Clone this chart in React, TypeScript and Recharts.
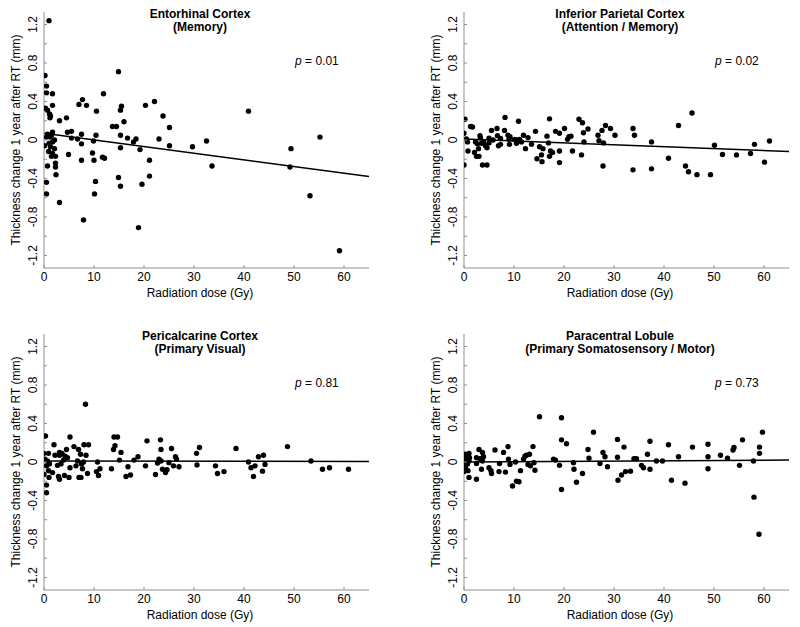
import { ScatterChart, Scatter, XAxis, YAxis, ReferenceLine } from "recharts";

const FONT = '"Liberation Sans", Arial, Helvetica, sans-serif';
const AXIS_COLOR = "#8f8f8f";

const DOSE_TICKS = [0, 10, 20, 30, 40, 50, 60];
const CHANGE_TICKS = [-1.2, -1.0, -0.8, -0.6, -0.4, -0.2, 0, 0.2, 0.4, 0.6, 0.8, 1.0, 1.2];
const LABELED_CHANGE = [-1.2, -0.8, -0.4, 0, 0.4, 0.8, 1.2];

// [dose (Gy), thickness change (mm)]
const entorhinal: [number, number][] = [
  [1.0, 1.24], [0.2, 0.67], [0.5, 0.56], [0.5, 0.49], [1.7, 0.48], [1.7, 0.36], [0.3, 0.33],
  [0.7, 0.31], [1.1, 0.27], [1.3, 0.25], [1.2, 0.23], [3.1, 0.2], [4.5, 0.23], [7.0, 0.37],
  [7.7, 0.42], [8.5, 0.36], [10.5, 0.3], [11.9, 0.48], [14.9, 0.71], [15.3, 0.31], [15.5, 0.35],
  [16.0, 0.19], [13.7, 0.14], [14.5, 0.14], [15.3, 0.05], [15.3, -0.08], [16.7, 0.02], [17.9, -0.02],
  [18.4, 0.01], [19.2, -0.1], [20.3, 0.36], [22.1, 0.4], [23.8, 0.25], [25.1, 0.13], [23.0, 0.01],
  [25.1, -0.06], [21.1, -0.21], [21.1, -0.375], [19.6, -0.46], [18.9, -0.91], [14.9, -0.39],
  [15.3, -0.48], [10.3, -0.43], [10.1, -0.56], [10.0, -0.21], [9.7, -0.135], [9.9, -0.01],
  [10.4, 0.05], [11.7, -0.18], [12.1, -0.19], [7.5, -0.04], [7.5, -0.21], [7.5, 0.06], [6.7, 0.01],
  [5.5, 0.09], [5.5, 0.02], [4.7, 0.08], [4.9, -0.15], [7.9, -0.83], [3.1, -0.65], [0.5, -0.44],
  [0.5, -0.56], [0.7, -0.27], [2.3, -0.28], [2.4, -0.36], [2.3, -0.24], [2.3, -0.17], [1.5, -0.17],
  [1.7, -0.14], [0.9, -0.12], [0.1, -0.06], [0.5, 0.03], [1.2, 0.03], [1.7, 0.08], [1.7, -0.02],
  [2.1, 0.0], [2.1, -0.09], [1.3, -0.07], [1.0, -0.035], [1.5, 0.05], [0.7, 0.06], [29.7, -0.07],
  [32.5, -0.01], [33.6, -0.27], [40.9, 0.3], [49.4, -0.09], [49.2, -0.28], [53.2, -0.58],
  [55.2, 0.03], [59.1, -1.15],
];

const inferiorParietal: [number, number][] = [
  [0, 0.07], [0.2, 0.215], [0, -0.26], [0.5, 0.01], [0.7, -0.02], [0.8, -0.115], [1.3, 0.14],
  [1.7, 0.135], [2.1, -0.13], [2.5, -0.17], [2.3, -0.02], [2.7, -0.04], [2.9, -0.09], [3.0, -0.17],
  [3.2, 0.045], [3.3, 0.02], [3.5, -0.035], [3.7, -0.26], [4.6, -0.26], [3.9, -0.02], [4.3, -0.06],
  [4.6, -0.08], [5.0, 0.02], [5.0, -0.03], [5.5, 0.1], [5.8, 0.0], [6.6, 0.12], [6.7, 0.045],
  [6.9, -0.06], [7.3, -0.045], [7.3, 0.015], [8.2, 0.235], [8.1, 0.1], [8.8, 0.05], [9.0, 0.007],
  [9.1, -0.045], [9.2, 0.035], [10.1, 0.007], [10.5, -0.035], [10.6, 0.0], [10.9, 0.195],
  [11.1, 0.007], [11.5, -0.02], [11.9, 0.05], [12.3, -0.09], [12.8, 0.025], [13.5, -0.045],
  [14.3, 0.09], [14.6, -0.195], [15.1, -0.07], [15.5, -0.155], [15.6, -0.225], [15.8, -0.09],
  [16.6, 0.04], [16.9, -0.03], [17.1, 0.22], [17.1, -0.17], [17.3, -0.115], [17.7, -0.13],
  [18.3, 0.09], [19.1, 0.07], [19.1, -0.115], [19.1, -0.235], [20.1, 0.12], [20.7, 0.007],
  [21.0, 0.035], [21.4, 0.04], [21.7, -0.115], [23.0, 0.215], [23.7, 0.18], [23.9, 0.075],
  [24.0, -0.02], [23.5, -0.155], [24.8, 0.115], [26.8, 0.05], [27.0, -0.007], [27.6, 0.1],
  [27.9, -0.03], [27.8, -0.27], [28.3, 0.15], [29.3, 0.12], [30.2, 0.05], [33.8, 0.12],
  [34.1, 0.05], [33.8, -0.31], [37.5, -0.02], [37.5, -0.3], [40.9, -0.19], [42.9, 0.15],
  [44.3, -0.27], [44.9, -0.33], [45.6, 0.28], [46.6, -0.36], [49.3, -0.36], [50.1, -0.055],
  [51.7, -0.15], [54.5, -0.155], [57.3, -0.14], [58.1, -0.045], [60.1, -0.23], [61.1, -0.01],
];

const pericalcarine: [number, number][] = [
  [0, 0.09], [0, -0.13], [0.3, 0.27], [0.2, 0.03], [0.5, -0.04], [0.5, -0.24], [0.5, -0.32],
  [0.7, 0.01], [0.9, -0.09], [0.9, 0.09], [1.1, -0.02], [1.0, -0.16], [1.7, -0.11], [2.0, 0.18],
  [2.2, 0.07], [2.7, -0.035], [2.9, -0.15], [3.1, -0.18], [3.1, 0.07], [3.1, 0.1], [3.4, -0.02],
  [3.6, 0.09], [3.9, 0.02], [4.1, -0.14], [4.2, 0.06], [4.5, 0.13], [4.7, 0.045], [5.0, -0.16],
  [5.2, 0.26], [5.2, -0.06], [6.0, 0.16], [6.4, -0.04], [6.7, 0.01], [6.9, 0.13], [7.0, -0.16],
  [7.3, 0.08], [7.4, -0.16], [7.5, -0.02], [7.7, -0.07], [7.9, 0.0], [8.0, 0.18], [8.3, 0.6],
  [8.4, 0.07], [8.9, 0.18], [8.7, -0.12], [10.7, 0.0], [10.5, -0.1], [10.9, -0.14], [11.2, -0.07],
  [13.5, -0.07], [13.9, 0.13], [14.0, 0.26], [14.2, 0.17], [14.7, 0.26], [15.1, 0.02], [15.4, 0.1],
  [16.4, -0.15], [16.8, -0.05], [17.3, -0.135], [18.0, 0.02], [18.8, 0.055], [20.3, -0.04],
  [20.6, 0.22], [22.3, -0.13], [22.7, -0.01], [23.0, 0.03], [23.3, 0.23], [23.4, 0.13], [23.4, 0.01],
  [23.7, -0.075], [24.3, -0.11], [24.6, -0.08], [25.0, -0.007], [25.5, 0.14], [25.9, -0.04],
  [26.3, 0.055], [26.5, 0.03], [27.0, -0.05], [30.5, 0.09], [30.6, -0.03], [31.1, 0.15],
  [34.3, -0.04], [34.7, -0.12], [36.0, -0.1], [38.4, 0.14], [40.9, 0.0], [41.4, -0.06],
  [41.9, -0.15], [42.2, -0.04], [42.9, 0.055], [43.7, -0.095], [43.9, 0.07], [44.2, -0.025],
  [48.7, 0.16], [53.4, 0.01], [55.7, -0.075], [57.1, -0.06], [60.9, -0.075],
];

const paracentral: [number, number][] = [
  [0, 0.045], [0, -0.015], [0, -0.1], [0.2, 0.08], [0.3, -0.06], [0.5, 0.02], [0.7, -0.02],
  [0.8, -0.09], [0.9, 0.06], [1.0, 0.09], [1.0, 0.01], [1.1, 0.045], [1.0, -0.16], [2.5, -0.015],
  [2.5, 0.045], [2.5, -0.18], [3.0, 0.13], [3.2, 0.035], [3.5, -0.075], [3.7, 0.1], [3.9, 0.055],
  [3.7, 0.01], [5.0, -0.06], [5.4, -0.09], [5.5, -0.12], [6.2, 0.125], [7.0, -0.1], [7.1, -0.015],
  [7.9, 0.1], [8.3, -0.105], [8.8, 0.16], [8.9, 0.03], [9.2, -0.025], [9.7, -0.25], [10.3, 0.0],
  [10.5, -0.2], [11.0, -0.205], [11.3, -0.09], [11.9, 0.03], [12.2, 0.06], [12.5, 0.07],
  [12.8, -0.025], [13.1, 0.08], [13.3, -0.04], [13.8, 0.16], [14.0, -0.007], [14.2, -0.085],
  [15.1, 0.47], [17.9, 0.03], [18.3, 0.02], [19.1, -0.035], [19.5, 0.46], [19.5, 0.23],
  [19.5, -0.285], [20.5, 0.19], [21.9, -0.007], [22.0, -0.075], [22.5, -0.21], [23.7, -0.12],
  [24.8, 0.13], [25.0, 0.04], [25.9, 0.31], [27.2, -0.015], [27.8, 0.1], [28.2, 0.055],
  [28.7, -0.05], [30.7, 0.235], [30.7, 0.05], [30.8, -0.19], [31.5, -0.135], [32.0, 0.155],
  [32.3, -0.1], [33.3, -0.095], [34.0, 0.035], [34.5, 0.035], [35.5, -0.035], [35.9, -0.06],
  [36.7, 0.08], [37.2, -0.075], [37.2, 0.215], [38.5, 0.01], [39.7, 0.01], [40.9, 0.18],
  [41.5, -0.19], [42.9, 0.055], [44.2, -0.22], [45.7, 0.155], [48.8, 0.185], [48.8, 0.055],
  [48.8, -0.07], [51.3, 0.07], [52.7, 0.04], [53.8, 0.125], [54.0, 0.15], [55.1, -0.035],
  [55.7, 0.23], [57.9, 0.01], [58.0, -0.365], [59.1, 0.155], [59.1, 0.09], [59.0, -0.75],
  [59.7, 0.31],
];

// fitted line: change at dose 0 and at dose 65
const entorhinalFit = [0.07, -0.38];
const inferiorParietalFit = [0.01, -0.12];
const pericalcarineFit = [0.01, 0.005];
const paracentralFit = [0.0, 0.02];

const PANELS = [
  { left: 0, top: 0, title: "Entorhinal Cortex", subtitle: "(Memory)", p: "0.01", points: entorhinal, fit: entorhinalFit },
  { left: 420, top: 0, title: "Inferior Parietal Cortex", subtitle: "(Attention / Memory)", p: "0.02", points: inferiorParietal, fit: inferiorParietalFit },
  { left: 0, top: 322, title: "Pericalcarine Cortex", subtitle: "(Primary Visual)", p: "0.81", points: pericalcarine, fit: pericalcarineFit },
  { left: 420, top: 322, title: "Paracentral Lobule", subtitle: "(Primary Somatosensory / Motor)", p: "0.73", points: paracentral, fit: paracentralFit },
];

function XTick(props: any) {
  const { x, y, payload } = props;
  return (
    <g>
      <line x1={x} y1={y} x2={x} y2={y - 3} stroke={AXIS_COLOR} />
      <text x={x} y={y + 13} textAnchor="middle" fontSize={12} fontFamily={FONT} fill="#000">
        {payload.value}
      </text>
    </g>
  );
}

function YTick(props: any) {
  const { x, y, payload } = props;
  const v = payload.value;
  const labeled = LABELED_CHANGE.some((t) => Math.abs(t - v) < 1e-6);
  return (
    <g>
      <line x1={x} y1={y} x2={x + 3} y2={y} stroke={AXIS_COLOR} />
      {labeled && (
        <text
          x={x - 7}
          y={y}
          transform={`rotate(-90, ${x - 7}, ${y})`}
          textAnchor="middle"
          fontSize={12}
          fontFamily={FONT}
          fill="#000"
        >
          {Math.abs(v) < 1e-6 ? "0" : v.toFixed(1)}
        </text>
      )}
    </g>
  );
}

function Dot(props: any) {
  return <circle cx={props.cx} cy={props.cy} r={2.7} fill="#000" />;
}

function Panel({ left, top, title, subtitle, p, points, fit }: (typeof PANELS)[number]) {
  const data = points.map(([dose, change]) => ({ dose, change }));
  return (
    <div style={{ position: "absolute", left, top, width: 400, height: 320 }}>
      <ScatterChart width={400} height={320} margin={{ top: 12, right: 31, bottom: 22, left: 14 }}>
        <XAxis
          type="number"
          dataKey="dose"
          domain={[0, 65]}
          ticks={DOSE_TICKS}
          interval={0}
          height={30}
          stroke={AXIS_COLOR}
          tickSize={0}
          tickMargin={0}
          tickLine={false}
          tick={<XTick />}
          allowDataOverflow
        />
        <YAxis
          type="number"
          dataKey="change"
          domain={[-1.33, 1.33]}
          ticks={CHANGE_TICKS}
          interval={0}
          width={30}
          stroke={AXIS_COLOR}
          tickSize={0}
          tickMargin={0}
          tickLine={false}
          tick={<YTick />}
          allowDataOverflow
        />
        <ReferenceLine
          segment={[{ x: 0, y: fit[0] }, { x: 65, y: fit[1] }]}
          stroke="#000"
          strokeWidth={1.5}
        />
        <Scatter data={data} shape={Dot} isAnimationActive={false} />
      </ScatterChart>
      <svg
        width={400}
        height={320}
        style={{ position: "absolute", left: 0, top: 0, pointerEvents: "none" }}
        fontFamily={FONT}
      >
        <text x={200} y={17.5} textAnchor="middle" fontSize={12} fontWeight="bold">{title}</text>
        <text x={200} y={30.5} textAnchor="middle" fontSize={12} fontWeight="bold">{subtitle}</text>
        <text x={295} y={65} fontSize={12}>
          <tspan fontStyle="italic">p</tspan> = {p}
        </text>
        <text x={200} y={297} textAnchor="middle" fontSize={12}>Radiation dose (Gy)</text>
        <text x={20} y={140} transform="rotate(-90, 20, 140)" textAnchor="middle" fontSize={12}>
          Thickness change 1 year after RT (mm)
        </text>
      </svg>
    </div>
  );
}

export default function App() {
  return (
    <div style={{ position: "absolute", left: 0, top: 0, width: 800, height: 627, background: "#fff" }}>
      {PANELS.map((panel) => (
        <Panel key={panel.title} {...panel} />
      ))}
    </div>
  );
}
